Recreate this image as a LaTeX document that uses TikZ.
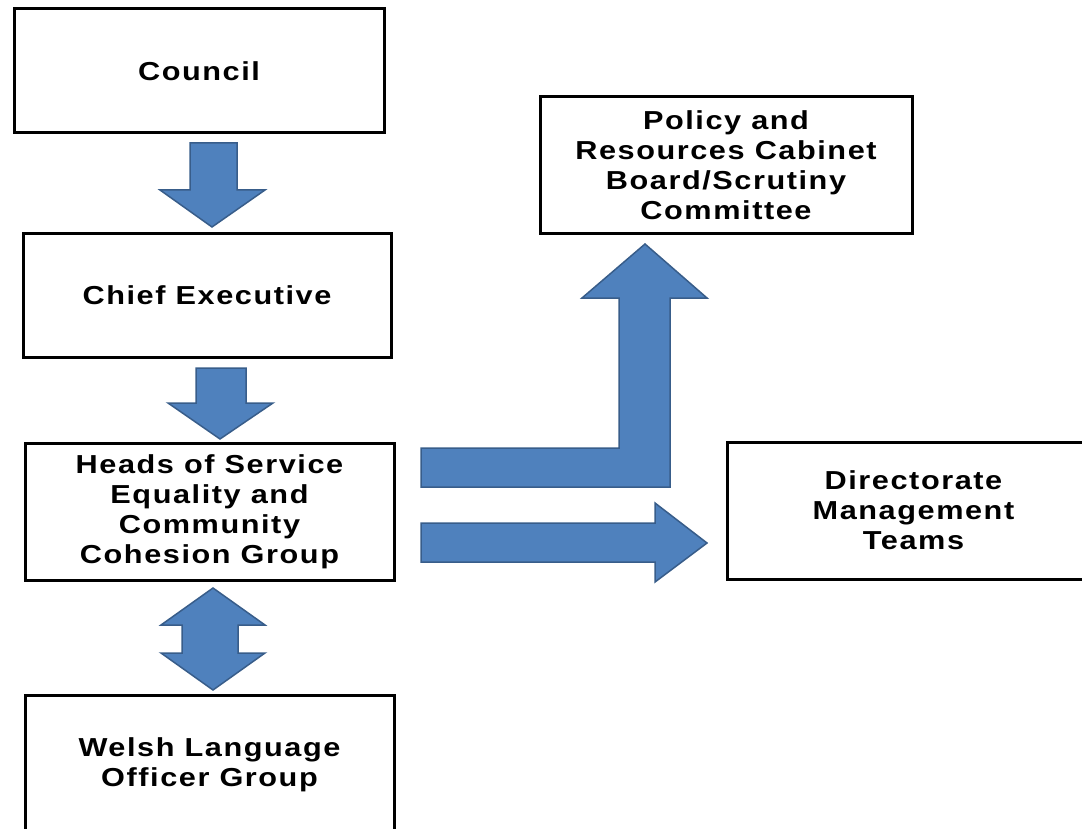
\documentclass[tikz,border=0pt]{standalone}
\usepackage{fontspec}
\setmainfont{Liberation Sans}
\newfontfamily\boxfont{Liberation Sans}[LetterSpace=6,FakeStretch=1.18]
\usetikzlibrary{calc}

\definecolor{arrowblue}{RGB}{79,129,189}
\definecolor{arrowedge}{RGB}{56,93,138}

\tikzset{
	orgbox/.style={draw, line width=3pt, align=center, inner sep=0pt, outer sep=0pt,
		font=\boxfont\bfseries\fontsize{26}{30}\selectfont},
	blockarrow/.style={fill=arrowblue, draw=arrowedge, line width=1.5pt, line join=miter}
}

\begin{document}
\begin{tikzpicture}[x=1pt,y=-1pt]

				\useasboundingbox (0,0) rectangle (1082,829);

				% Boxes
				\node[orgbox, minimum width=370pt, minimum height=124pt] (council) at (199,71) {Council};
				\node[orgbox, minimum width=368pt, minimum height=123pt] (chief) at (207,295.5) {Chief Executive};
				\node[orgbox, minimum width=369pt, minimum height=137pt] (heads) at (209.5,511.5)
					{Heads of Service\\Equality and\\Community\\Cohesion Group};
				\node[orgbox, minimum width=369pt, minimum height=140pt] (welsh) at (209.5,765)
					{Welsh Language\\Officer Group};
				\node[orgbox, minimum width=372pt, minimum height=137pt] (policy) at (726,165.5)
					{Policy and\\Resources Cabinet\\Board/Scrutiny\\Committee};
				\node[orgbox, minimum width=373pt, minimum height=137pt] (directorate) at (913.5,510.5)
					{Directorate\\Management\\Teams};

				% Council to Chief Executive
				\filldraw[blockarrow] ($(council.south)+(-9,10)$) -- ++(47,0) -- ++(0,47) -- ++(28,0)
					-- ($(chief.north)+(5,-7)$) -- ++(-52,-37) -- ++(30,0) -- cycle;

				% Chief Executive to Heads of Service
				\filldraw[blockarrow] ($(chief.south)+(-11,11)$) -- ++(50,0) -- ++(0,35) -- ++(27,0)
					-- ($(heads.north)+(10.5,-4)$) -- ++(-52,-36) -- ++(28,0) -- cycle;

				% Heads of Service and Welsh Language group, both ways
				\filldraw[blockarrow] ($(heads.south)+(3.5,8)$) -- ++(52,37) -- ++(-27,0) -- ++(0,28) -- ++(27,0)
					-- ($(welsh.north)+(3.5,-5)$) -- ++(-52,-37) -- ++(21,0) -- ++(0,-28) -- ++(-21,0) -- cycle;

				% Heads of Service up to Policy and Resources
				\filldraw[blockarrow] ($(heads.north east)+(27,5)$) -- ++(198,0) -- ++(0,-150) -- ++(-37,0)
					-- ($(policy.south)+(-81,10)$) -- ++(62,54) -- ++(-37,0) -- ++(0,189) -- ++(-249,0) -- cycle;

				% Heads of Service to Directorate
				\filldraw[blockarrow] ($(heads.east)+(27,11.5)$) -- ++(234,0) -- ++(0,-20)
					-- ($(directorate.west)+(-20,32.5)$) -- ++(-52,39) -- ++(0,-20) -- ++(-234,0) -- cycle;

			\end{tikzpicture}
\end{document}
